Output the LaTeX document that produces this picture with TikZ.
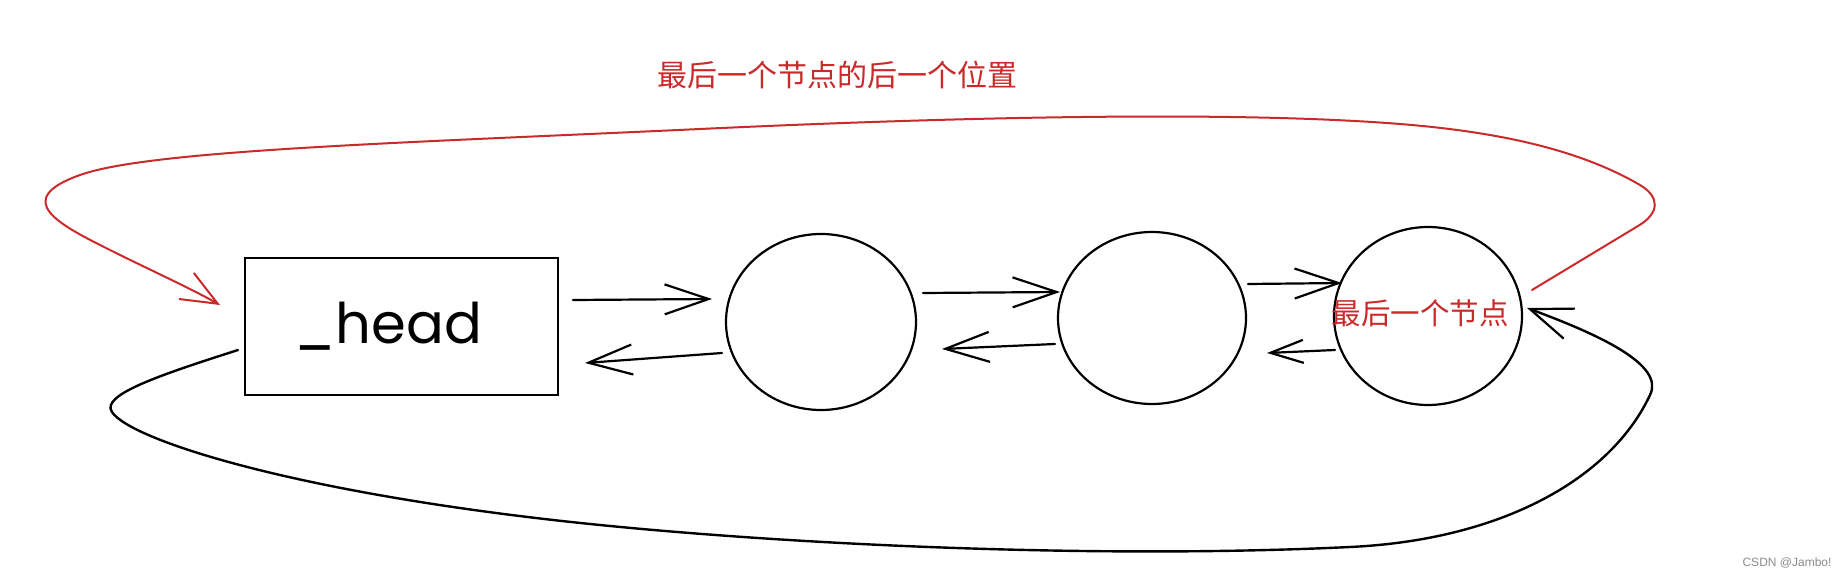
\documentclass[tikz,border=0pt]{standalone}
\usepackage{fontspec}
\usetikzlibrary{arrows.meta,calc,shapes.geometric}
\newfontfamily\cjk{Noto Sans CJK SC}
\newfontfamily\handfont{Poppins}
\newfontfamily\wmfont{Liberation Sans}
\definecolor{sketchred}{RGB}{201,42,42}
\definecolor{wmgray}{RGB}{140,140,140}
\tikzset{
  box/.style={draw=black, line width=2.2pt, rectangle, minimum width=313pt, minimum height=137pt, inner sep=0pt, outer sep=0pt},
  ring/.style={draw=black, line width=2.2pt, ellipse, inner sep=0pt, outer sep=0pt},
  link/.style={draw=black, line width=2.2pt, line cap=round, -{Straight Barb[length=44pt,width=30pt,line width=2.2pt]}},
  shortlink/.style={draw=black, line width=2.2pt, line cap=round, -{Straight Barb[length=33pt,width=23pt,line width=2.2pt]}},
  redlink/.style={draw=sketchred, line width=2pt, line cap=round, line join=round, -{Straight Barb[length=36pt,width=30pt,line width=2pt]}},
  backlink/.style={draw=black, line width=2.4pt, line cap=round, line join=round, -{Straight Barb[length=42pt,width=32pt,line width=2.2pt]}},
  redlabel/.style={text=sketchred, inner sep=0pt},
}
\begin{document}
\begin{tikzpicture}[x=1pt,y=-1pt]
\useasboundingbox (0,0) rectangle (1837,577);
\fill[white] (0,0) rectangle (1837,577);

\node[box] (head) at (401.5,326.5) {\handfont\fontsize{56}{60}\selectfont\hspace*{-26pt}\_head};
\node[ring, minimum width=190pt, minimum height=176pt] (c1) at (821,322) {};
\node[ring, minimum width=188pt, minimum height=172pt] (c2) at (1152,318) {};
\node[ring, minimum width=188pt, minimum height=178pt] (c3) at (1428,316) {};
\node[redlabel] (lastlbl) at (1420,313) {\cjk\fontsize{29.5}{32}\selectfont 最后一个节点};
\node[redlabel] (toplbl) at (837.5,75) {\cjk\fontsize{30}{34}\selectfont 最后一个节点的后一个位置};
\node[text=wmgray, inner sep=0pt] (wm) at (1787,563) {\wmfont\fontsize{12}{14}\selectfont CSDN @Jambo!};

% forward / backward links
\draw[link] ($(head.east)+(15,-26.5)$) -- ($(c1.west)+(-14,-23)$);
\draw[link] ($(c1.west)+(-4,31)$) -- ($(head.east)+(27,36.5)$);
\draw[link] ($(c1.east)+(7,-29)$) -- ($(c2.west)+(2,-26)$);
\draw[link] ($(c2.west)+(-3,26)$) -- ($(c1.east)+(26,27)$);
\draw[link] ($(c2.east)+(2,-34)$) -- ($(c3.west)+(8,-33)$);
\draw[shortlink] ($(c3.west)+(1,34)$) -- ($(c2.east)+(21,35)$);

% red: last node -> position after last node (head)
\draw[redlink] ($(c3.east)+(10,-26)$)
  -- (1638,226)
  .. controls (1660,213) and (1660,197) .. (1640,185)
  .. controls (1580,150) and (1500,132) .. (1400,124)
  .. controls (1250,112) and (1000,115) .. (700,129)
  .. controls (400,143) and (150,150) .. (80,175)
  .. controls (10,200) and (60,225) .. (110,250)
  .. controls (150,270) and (190,288) .. ($(head.west)+(-25,-21.5)$);

% black: head -> last node
\draw[backlink] ($(head.west)+(-7,23.5)$)
  .. controls (160,375) and (100,395) .. (112,412)
  .. controls (130,440) and (300,495) .. (600,525)
  .. controls (800,545) and (1100,559) .. (1350,547)
  .. controls (1500,540) and (1610,480) .. (1650,395)
  .. controls (1665,365) and (1600,335) .. ($(c3.east)+(5,-8)$);
\end{tikzpicture}
\end{document}
